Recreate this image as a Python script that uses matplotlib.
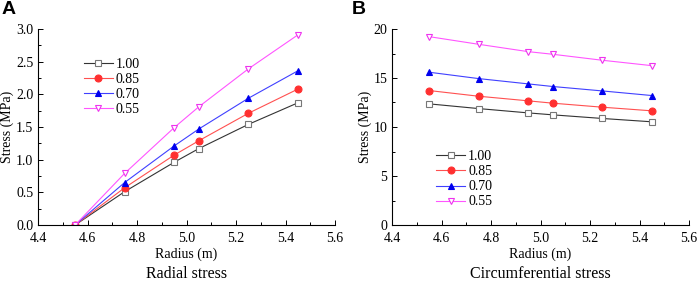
import matplotlib
matplotlib.use('Agg')
import matplotlib.pyplot as plt
from matplotlib.ticker import MultipleLocator, AutoMinorLocator

plt.rcParams['font.family'] = ['Liberation Serif', 'DejaVu Serif']

# radius positions
radius = [4.55, 4.75, 4.95, 5.05, 5.25, 5.45]
labels = ['1.00', '0.85', '0.70', '0.55']

# radial stress (panel A)
radial_100 = [0.0, 0.51, 0.96, 1.17, 1.54, 1.87]
radial_085 = [0.0, 0.57, 1.07, 1.29, 1.71, 2.08]
radial_070 = [0.0, 0.65, 1.21, 1.47, 1.94, 2.36]
radial_055 = [0.0, 0.79, 1.49, 1.81, 2.39, 2.91]

# circumferential stress (panel B)
circ_100 = [12.36, 11.88, 11.44, 11.24, 10.87, 10.53]
circ_085 = [13.72, 13.14, 12.67, 12.43, 12.02, 11.65]
circ_070 = [15.59, 14.94, 14.40, 14.13, 13.68, 13.21]
circ_055 = [19.22, 18.44, 17.69, 17.42, 16.81, 16.26]

styles = [
    dict(color='#333333', marker='s', mfc='white', mec='#777777'),
    dict(color='#ff5050', marker='o', mfc='#ff3030', mec='#ff3030'),
    dict(color='#4040ff', marker='^', mfc='#0000ee', mec='#0000ee'),
    dict(color='#ff55ff', marker='v', mfc='white', mec='#ee33ee'),
]

fig = plt.figure(figsize=(6.99, 2.81), dpi=100)
axA = fig.add_axes([38 / 699, 56 / 281, 297 / 699, 196 / 281])
axB = fig.add_axes([392 / 699, 56 / 281, 297 / 699, 196 / 281])


def draw(ax, series, ylim, ymajor, yfmt, legend_loc, title):
    for s, lab, st in zip(series, labels, styles):
        ax.plot(radius, s, label=lab, lw=0.8, ms=5, mew=0.8, **st)
    ax.set_xlim(4.4, 5.6)
    ax.set_ylim(*ylim)
    ax.xaxis.set_major_locator(MultipleLocator(0.2))
    ax.xaxis.set_minor_locator(AutoMinorLocator(2))
    ax.yaxis.set_major_locator(MultipleLocator(ymajor))
    ax.yaxis.set_minor_locator(AutoMinorLocator(2))
    ax.xaxis.set_major_formatter(plt.FormatStrFormatter('%.1f'))
    ax.yaxis.set_major_formatter(plt.FormatStrFormatter(yfmt))
    ax.spines['top'].set_visible(False)
    ax.spines['right'].set_visible(False)
    ax.spines['left'].set_linewidth(0.8)
    ax.spines['bottom'].set_linewidth(0.8)
    ax.tick_params(which='both', direction='in', labelsize=10, width=0.7)
    ax.tick_params(axis='x', pad=5)
    ax.tick_params(axis='y', pad=3.5)
    ax.tick_params(which='major', length=3.5)
    ax.tick_params(which='minor', length=2)
    ax.set_xlabel('Radius (m)', fontsize=10, labelpad=2)
    ax.set_ylabel('Stress (MPa)', fontsize=10, labelpad=1)
    ax.legend(loc='upper left', bbox_to_anchor=legend_loc, frameon=False,
              fontsize=10, handlelength=2.1, handletextpad=0.2,
              labelspacing=0.15, borderaxespad=0)
    ax.text(0.5, -0.25, title, transform=ax.transAxes, ha='center',
            va='center', fontsize=11.5)


draw(axA, [radial_100, radial_085, radial_070, radial_055], (0, 3.0), 0.5,
     '%.1f', (0.135, 0.88), 'Radial stress')
draw(axB, [circ_100, circ_085, circ_070, circ_055], (0, 20), 5, '%d',
     (0.13, 0.41), 'Circumferential stress')

fig.text(2 / 699, 1 - 1 / 281, 'A', family='Liberation Sans', weight='bold',
         fontsize=14, va='top', ha='left')
fig.text(352 / 699, 1 - 1 / 281, 'B', family='Liberation Sans', weight='bold',
         fontsize=14, va='top', ha='left')

fig.savefig('out.png', dpi=100)
